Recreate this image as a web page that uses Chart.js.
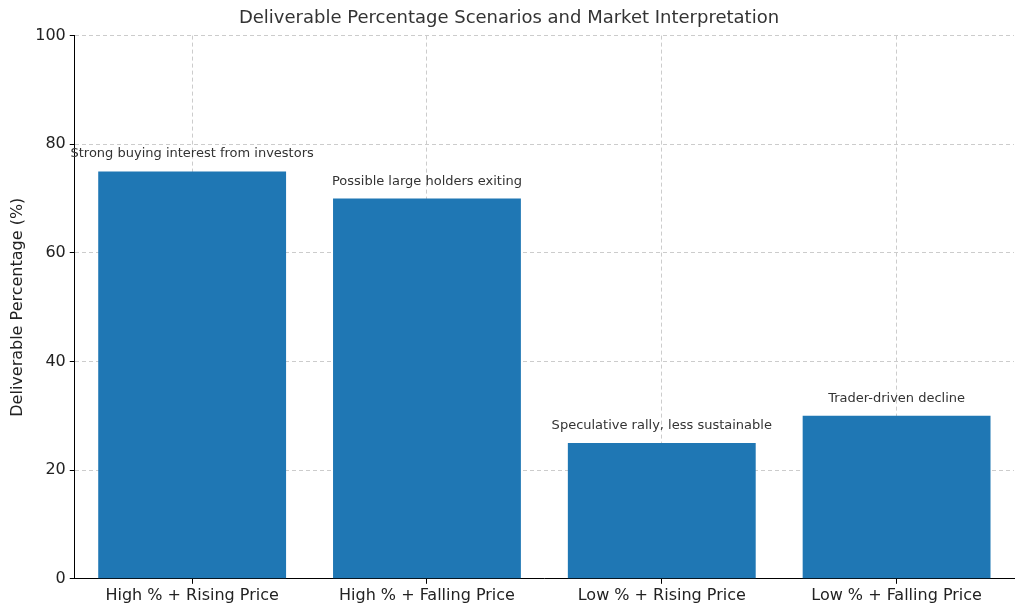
<!DOCTYPE html>
<html><head><meta charset="utf-8">
<script src="https://cdn.jsdelivr.net/npm/chart.js@4"></script>
<style>html,body{margin:0;padding:0;background:#fff}#w{width:1024px;height:611px}</style>
</head><body><div id="w"><canvas id="c"></canvas></div>
<script>
const categories = ["High % + Rising Price","High % + Falling Price","Low % + Rising Price","Low % + Falling Price"];
const values = [75,70,25,30];
const notes = ["Strong buying interest from investors","Possible large holders exiting","Speculative rally, less sustainable","Trader-driven decline"];
const yTicks = [0,20,40,60,80,100];

const notePlugin = {
  id:'notes',
  afterDatasetsDraw(chart){
    const ctx=chart.ctx, meta=chart.getDatasetMeta(0);
    ctx.save();
    ctx.font='13px "DejaVu Sans"';ctx.fillStyle='#333';ctx.textAlign='center';ctx.textBaseline='bottom';
    meta.data.forEach((b,i)=>{
      const y=chart.scales.y.getPixelForValue(values[i]+2);
      ctx.fillText(notes[i],b.x,y);
    });
    ctx.restore();
  }
};
new Chart(document.getElementById('c'),{
  type:'bar',
  data:{labels:categories,datasets:[{data:values,backgroundColor:'#1f77b4',barPercentage:0.8,categoryPercentage:1}]},
  plugins:[notePlugin],
  options:{
    responsive:true,maintainAspectRatio:false,animation:false,
    layout:{padding:{top:4,right:10,left:4,bottom:4}},
    plugins:{legend:{display:false},tooltip:{enabled:false},
      title:{display:true,text:'Deliverable Percentage Scenarios and Market Interpretation',color:'#333',font:{family:'DejaVu Sans',size:18,weight:'normal'},padding:{top:4,bottom:6}}},
    scales:{
      x:{grid:{offset:false,color:'#ccc',tickLength:5,tickColor:'#000'},border:{color:'#000',dash:[4,3],display:true},
        ticks:{color:'#222',font:{family:'DejaVu Sans',size:16},padding:2}},
      y:{min:0,max:100,afterBuildTicks(ax){ax.ticks=yTicks.map(v=>({value:v}));},
        grid:{color:'#ccc',tickLength:5,tickColor:'#000'},border:{color:'#000',dash:[4,3]},
        title:{display:true,text:'Deliverable Percentage (%)',color:'#222',font:{family:'DejaVu Sans',size:16}},
        ticks:{color:'#222',font:{family:'DejaVu Sans',size:16},padding:4}}
    }
  }
});
</script></body></html>
